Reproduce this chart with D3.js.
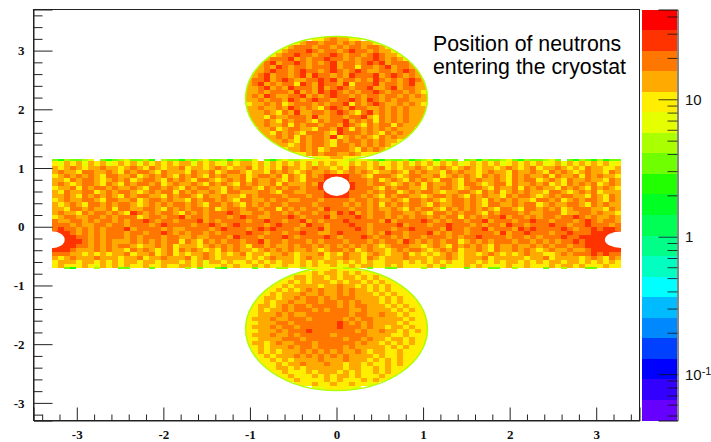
<!DOCTYPE html>
<html>
<head>
<meta charset="utf-8">
<script src="https://cdn.jsdelivr.net/npm/d3@7"></script>
<style>
  html, body { margin: 0; padding: 0; background: #fff; }
  svg { display: block; }
  .tick-x text, .tick-y text { font: bold 13px "Liberation Serif", serif; fill: #111; }
  .note { font: 21.3px "Liberation Sans", sans-serif; fill: #000; }
  .z-label { font: 15px "Liberation Sans", sans-serif; fill: #111; }
</style>
</head>
<body>
<div id="chart"></div>
<script>
// axis ranges and ticks
const xDomain = [-3.5, 3.5];
const yDomain = [-3.3, 3.7];
const zDomain = [0.046, 45];
const xMajor = [-3, -2, -1, 0, 1, 2, 3];
const yMajor = [-3, -2, -1, 0, 1, 2, 3];
const zMajor = [0.1, 1, 10];
const zMinor = [0.05, 0.06, 0.07, 0.08, 0.09, 0.2, 0.3, 0.4, 0.5, 0.6, 0.7, 0.8, 0.9,
  2, 3, 4, 5, 6, 7, 8, 9, 20, 30, 40];

// colour levels of the palette, bottom to top
const palette = ["#6600ff", "#3300ff", "#0000ff", "#0040ff", "#0088ff", "#00bbff", "#00ffff",
  "#00ffc0", "#00ff88", "#00ff55", "#00ff22", "#22ff00", "#70ff00", "#aaff00", "#e6ff00",
  "#ffee00", "#ffaa00", "#ff7700", "#ff3300", "#ff0000"];

// counts per digit used in the rows below (estimated by eye from the colours, one digit = 2x2 source bins)
const digitCounts = [1.2, 1.7, 2.4, 3.8, 5.2, 7.5, 10, 14, 20, 28];
const rimCount = 5.2;

const binSize = 0.07;
const rimSize = 0.035;

const upperLobeRows = [
  "66787766",
  "67887887878776",
  "678887887878878876",
  "67888987887898878776",
  "6788988788987887898776",
  "788897878898878788987876",
  "78978898787897887898978887",
  "78798788788897886887897887",
  "7789887898878987898778878987",
  "7897887897988787988897898787",
  "788978987788989788787987878987",
  "789787886987988796888978878977",
  "778978798887978987889778978877",
  "778788879787989878788987887876",
  "787987788978789887878878878787",
  "778788798789887889879878788777",
  "677878678887878896878987787876",
  "778778798787689879887787878777",
  "777876879778878987689787878777",
  "777687788879778878897687878777",
  "7787687887687889787868787877",
  "7787786878878879876878868777",
  "77867887768879868787878777",
  "77687876888769888787687877",
  "778786878879678787687877",
  "7787687887687887878776",
  "77678788768878787876",
  "677878678887687876",
  "66787887787666",
  "56677665"
];

const lowerLobeRows = [
  "56676655",
  "66676776767666",
  "667767767677676766",
  "66767677767677676766",
  "6676777767787767676766",
  "667676787877878776767666",
  "66767778778778787776767666",
  "67767787887878887777676766",
  "6676778778878878787776767666",
  "6776787887888878788777676766",
  "667677878887878887787777676766",
  "667778787788888887887787767666",
  "677787788878888878788777776766",
  "667778878888888987878777767666",
  "677787887888888988878776776766",
  "667778788898888888787787767676",
  "677787787888887888887777667666",
  "667777888788888878878776776766",
  "677678778887888888787767676766",
  "667677787887888878777776767666",
  "6767677787878787787677667666",
  "6676777878787878777767667666",
  "66767677778777877767676766",
  "66676778777877677676676766",
  "667767677777767766767666",
  "6676667677767676676766",
  "66766676767767666766",
  "667666676766676766",
  "66676676676656",
  "55666655"
];

const bandRows = [
  "6576757675 6767576767 6775767657 6776757676 7675767657 6767567675 7675767567 6767567676 7567576767 6756",
  "7678767787 7678768767 7867767876 7786767687 7678776768 7767867677 8767876787 6776787678 6778767687 7667",
  "7877688778 7687887687 7768778678 8767768787 6787787678 7876778768 7877687877 6787768778 7687876787 7687",
  "6787878768 8778678787 6878768787 7867887868 7687899998 8768887678 8778678787 6878768787 7868778687 8776",
  "7768788767 8786788768 7876887678 7868778768 7688899998 8878678768 7876887687 8778768788 6787687787 7687",
  "7876788768 7687887867 8778768787 6878778687 7787999999 8878876787 8687787688 7678868778 7867687878 6787",
  "6778687887 8778768878 7687887768 7887687878 8788999999 8887687887 7687887678 8768778687 8776878768 7876",
  "7687788678 7887678788 6878778768 8777887688 7788899998 8878788678 7887677887 6878678787 7688767878 6777",
  "7787687878 7687887768 7887687787 7687888878 8878899998 8787687887 7678878768 7877687887 6787887768 7687",
  "6787788768 8778678878 7768788787 6887787887 7888788887 8878778768 8787678878 7687878776 8878678788 7687",
  "7678768878 7887678787 8878768878 7687878878 8887888878 7878687878 8768778878 7688778788 6787788768 7877",
  "7768878778 6887788768 7878878678 8788788687 8788798887 8878778768 7887687878 7876887688 7878678887 7687",
  "7877687887 8769878788 7687878889 8778878878 7887887989 7878878877 8768878788 7687888787 7888677887 8776",
  "6788778878 7888678878 8978878887 8988778889 8788897888 9878878787 8878788687 8788978878 7887889878 7787",
  "8778878788 7878898788 7888978788 8878898878 8978788898 8888797888 8987878878 8978887889 8878887898 7887",
  "8887877887 8878887898 8887889878 9888878988 8798878889 8878888978 8878898887 8788798878 8898878898 8878",
  "8988787878 8897888878 7788887898 8878989888 7888978888 9878887889 8888798878 8978887989 8888987889 8998",
  "9998787878 8878878898 7878878788 8898878878 8988778988 8878798878 8897878878 8887978898 8878898889 9999",
  "9999887878 8878788878 8778778887 9888788898 7888898788 8987887878 8788878788 9888878878 7888988999 9999",
  "9999987878 7778787878 8687687878 8788978878 8878788878 8878788798 7878788678 7878887887 8787889899 9999",
  "9999887878 7887677878 6777678787 8768878778 7887878787 8787678887 7678768787 8768778778 7878878899 9999",
  "9998777878 7768787678 6878767687 8776787878 7787678878 6787767878 8767878677 8768778787 6787787789 9999",
  "8887767676 7786778678 6767787676 7867767787 6777867687 7678767786 7676787677 6787676787 7667878889 8988",
  "7678777877 7677867787 7786787677 7767678777 6787767787 7687677787 7767787677 7867777767 7867777678 7687",
  "6777677676 7677677677 7676757767 6676767677 6767677676 7676677767 6767676677 6767677676 7677677676 7676",
  "6766676576 7676676676 6776756676 7667676676 6767667567 6776676766 6676756676 7665676676 6676776766 6766"
].map(row => row.replace(/ /g, ""));

// first and last rows of the band, one source bin tall ("." = empty bin)
const bandTopRim = "3243345.32 3453342.43 3243453342 4335.32454 4556666654 5543243342 3452433.34 2433453243 3453.32432 4233".replace(/ /g, "");
const bandBottomRim = "..32...4.. .33...3... ..4.3..32. ...3...44. .45666554. ..3..33... .4..3...3. ..33..4... .3..4...33 ....".replace(/ /g, "");

// circular lobes, and the holes through the shape (data units)
const lobes = [
  { cx: 0, cy: 2.19, r: 1.05, rows: upperLobeRows },
  { cx: 0, cy: -1.74, r: 1.05, rows: lowerLobeRows }
];
const holes = [
  { cx: 0, cy: 0.69, rx: 0.155, ry: 0.165 },
  { cx: -3.29, cy: -0.22, rx: 0.15, ry: 0.145 },
  { cx: 3.29, cy: -0.22, rx: 0.19, ry: 0.14 }
];
const bandLeft = -3.29;
const bandTop = 1.113;

const noteLines = ["Position of neutrons", "entering the cryostat"];

const width = 711;
const height = 442;
const plot = { left: 33.5, right: 639.5, top: 9.5, bottom: 420.5 };
const bar = { left: 642, right: 677 };

const svg = d3.select("#chart").append("svg")
  .attr("width", width)
  .attr("height", height);

const xScale = d3.scaleLinear().domain(xDomain).range([plot.left, plot.right]);
const yScale = d3.scaleLinear().domain(yDomain).range([plot.bottom, plot.top]);
const zScale = d3.scaleLog().domain(zDomain).range([plot.bottom, plot.top]);
const colorScale = d3.scaleQuantize()
  .domain(zDomain.map(Math.log10))
  .range(palette);

// turn digit rows into cells
function rowCells(row, x0, yTop, w, h) {
  const cells = [];
  row.split("").forEach((ch, i) => {
    if (ch === ".") return;
    cells.push({ x: x0 + i * w, y: yTop, w, h, count: digitCounts[+ch] });
  });
  return cells;
}

function drawCells(parent, cells) {
  parent.selectAll(null)
    .data(cells)
    .enter()
    .append("rect")
    .attr("x", d => xScale(d.x))
    .attr("y", d => yScale(d.y))
    .attr("width", d => xScale(d.x + d.w) - xScale(d.x))
    .attr("height", d => yScale(d.y - d.h) - yScale(d.y))
    .attr("fill", d => colorScale(Math.log10(d.count)))
    .attr("shape-rendering", "crispEdges");
}

const defs = svg.append("defs");
lobes.forEach((lobe, k) => {
  defs.append("clipPath")
    .attr("id", `lobe-${k}`)
    .append("ellipse")
    .attr("cx", xScale(lobe.cx))
    .attr("cy", yScale(lobe.cy))
    .attr("rx", xScale(lobe.r) - xScale(0))
    .attr("ry", yScale(0) - yScale(lobe.r));

  const cells = lobe.rows.flatMap((row, i) =>
    rowCells(row, lobe.cx - row.length / 2 * binSize, lobe.cy + lobe.r - i * binSize, binSize, binSize));
  drawCells(svg.append("g").attr("clip-path", `url(#lobe-${k})`), cells);

  // thin low-count rim along the lobe edge
  svg.append("ellipse")
    .attr("cx", xScale(lobe.cx))
    .attr("cy", yScale(lobe.cy))
    .attr("rx", xScale(lobe.r) - xScale(0))
    .attr("ry", yScale(0) - yScale(lobe.r))
    .attr("fill", "none")
    .attr("stroke", colorScale(Math.log10(rimCount)))
    .attr("stroke-width", 1.5);
});

const bandCells = bandRows.flatMap((row, i) =>
  rowCells(row, bandLeft, bandTop - i * binSize, binSize, binSize));
drawCells(svg.append("g"), bandCells);
drawCells(svg.append("g"), rowCells(bandTopRim, bandLeft, bandTop + rimSize, binSize, rimSize));
drawCells(svg.append("g"), rowCells(bandBottomRim, bandLeft, bandTop - 25.6 * binSize, binSize, rimSize));

svg.append("g").selectAll("ellipse")
  .data(holes)
  .enter()
  .append("ellipse")
  .attr("cx", d => xScale(d.cx))
  .attr("cy", d => yScale(d.cy))
  .attr("rx", d => xScale(d.rx) - xScale(0))
  .attr("ry", d => yScale(0) - yScale(d.ry))
  .attr("fill", "#fff");

// frame
svg.append("rect")
  .attr("x", plot.left)
  .attr("y", plot.top)
  .attr("width", plot.right - plot.left)
  .attr("height", plot.bottom - plot.top)
  .attr("fill", "none")
  .attr("stroke", "#222");

// axes: ticks point into the frame
const xMinor = d3.range(-34, 35, 2).map(d => d / 10).filter(d => !xMajor.includes(d));
const yMinor = d3.range(-32, 37, 2).map(d => d / 10).filter(d => !yMajor.includes(d));

const xAxisG = svg.append("g")
  .attr("class", "tick-x")
  .attr("transform", `translate(0,${plot.bottom})`);
xAxisG.call(d3.axisBottom(xScale).tickValues(xMajor).tickSize(-13).tickPadding(9).tickFormat(d => String(d)));
xAxisG.append("g")
  .call(d3.axisBottom(xScale).tickValues(xMinor).tickSize(-6).tickFormat(""))
  .select(".domain").remove();

const yAxisG = svg.append("g")
  .attr("class", "tick-y")
  .attr("transform", `translate(${plot.left},0)`);
yAxisG.call(d3.axisLeft(yScale).tickValues(yMajor).tickSize(-19).tickPadding(9).tickFormat(d => String(d)));
yAxisG.append("g")
  .call(d3.axisLeft(yScale).tickValues(yMinor).tickSize(-9).tickFormat(""))
  .select(".domain").remove();

svg.selectAll(".tick-x path, .tick-y path").attr("stroke", "#222").attr("stroke-width", 1);
svg.selectAll(".tick-x line, .tick-y line").attr("stroke", "#222");

// palette bar
svg.append("g").selectAll("rect")
  .data(palette)
  .enter()
  .append("rect")
  .attr("x", bar.left)
  .attr("width", bar.right - bar.left)
  .attr("y", d => zScale(Math.pow(10, colorScale.invertExtent(d)[1])))
  .attr("height", d => zScale(Math.pow(10, colorScale.invertExtent(d)[0])) - zScale(Math.pow(10, colorScale.invertExtent(d)[1])))
  .attr("fill", d => d)
  .attr("shape-rendering", "crispEdges");

const zAxisG = svg.append("g").attr("transform", `translate(${bar.right + 0.5},0)`);
zAxisG.call(d3.axisRight(zScale).tickValues(zMajor).tickSize(-19).tickFormat(""));
zAxisG.append("g")
  .call(d3.axisRight(zScale).tickValues(zMinor).tickSize(-10).tickFormat(""))
  .select(".domain").remove();
zAxisG.selectAll("path").attr("stroke", "#111");
zAxisG.selectAll("line").attr("stroke", "#111").attr("stroke-opacity", 0.8);

const zLabels = svg.append("g").selectAll("text")
  .data(zMajor)
  .enter()
  .append("text")
  .attr("class", "z-label")
  .attr("x", 685)
  .attr("y", d => zScale(d) + 5.5);
zLabels.append("tspan").text(d => d === 1 ? "1" : "10");
zLabels.filter(d => d < 1).append("tspan")
  .attr("dy", -5)
  .attr("font-size", 11)
  .text("-1");

// annotation
svg.append("g").selectAll("text")
  .data(noteLines)
  .enter()
  .append("text")
  .attr("class", "note")
  .attr("x", 433)
  .attr("y", (d, i) => 50.5 + i * 23.5)
  .text(d => d);
</script>
</body>
</html>
